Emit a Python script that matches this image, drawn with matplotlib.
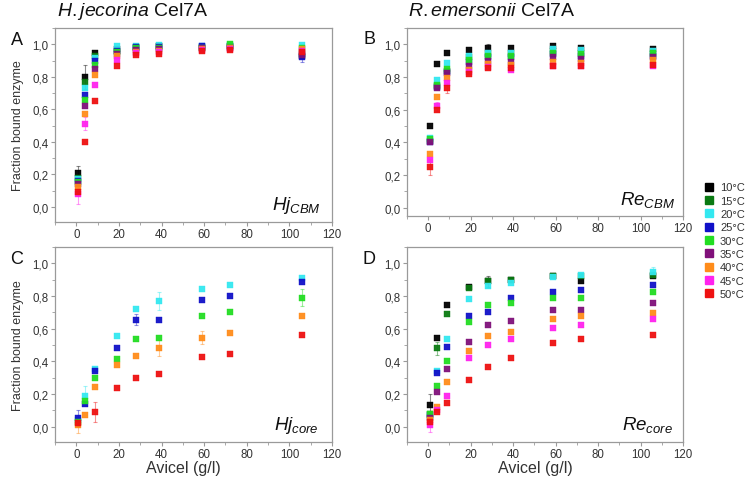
import numpy as np
import matplotlib
matplotlib.use('Agg')
from matplotlib import pyplot as plt
from matplotlib.ticker import MultipleLocator, FuncFormatter
from matplotlib.lines import Line2D

plt.rcParams['font.family'] = ['Liberation Sans', 'DejaVu Sans']
plt.rcParams['mathtext.fontset'] = 'custom'
plt.rcParams['mathtext.rm'] = 'Liberation Sans'
plt.rcParams['mathtext.it'] = 'Liberation Sans:italic'

nan = np.nan
avicel = [1, 4, 9, 19, 28, 39, 59, 72, 106]
temps = ['10°C', '15°C', '20°C', '25°C', '30°C', '35°C', '40°C', '45°C', '50°C']
colors = ['#000000', '#0a7a12', '#33e8f0', '#1010c8', '#22dd22',
          '#80107a', '#ff8c1a', '#ff22ee', '#ee1111']

# panel A: H. jecorina CBM
hj_cbm = [
    [0.21, 0.80, 0.945, 0.97, 0.985, 0.99, 0.985, 0.99, 0.93],   # 10
    [0.18, 0.77, 0.93, 0.96, 0.98, 0.99, 0.98, 0.99, 0.94],      # 15
    [0.17, 0.73, 0.915, 0.99, 0.99, 0.995, 0.99, 0.995, 0.995],  # 20
    [0.16, 0.69, 0.90, 0.96, 0.985, 0.985, 0.99, 0.985, 0.92],   # 25
    [0.15, 0.66, 0.875, 0.95, 0.975, 0.98, 0.98, 1.0, 0.98],     # 30
    [0.14, 0.62, 0.85, 0.94, 0.965, 0.97, 0.975, 0.98, 0.935],   # 35
    [0.12, 0.57, 0.81, 0.93, 0.955, 0.96, 0.97, 0.975, 0.97],    # 40
    [0.08, 0.51, 0.75, 0.905, 0.945, 0.95, 0.965, 0.97, 0.96],   # 45
    [0.09, 0.40, 0.65, 0.867, 0.935, 0.94, 0.96, 0.965, 0.95],   # 50
]

# panel B: R. emersonii CBM
re_cbm = [
    [0.50, 0.88, 0.945, 0.965, 0.975, 0.98, 0.99, 0.98, 0.97],
    [0.41, 0.745, 0.84, 0.92, 0.94, 0.94, 0.96, 0.95, 0.94],
    [0.43, 0.78, 0.885, 0.93, 0.95, 0.95, 0.97, 0.965, 0.96],
    [0.40, 0.74, 0.83, 0.89, 0.92, 0.92, 0.94, 0.93, 0.93],
    [0.42, 0.75, 0.85, 0.905, 0.93, 0.93, 0.95, 0.94, 0.95],
    [0.40, 0.73, 0.825, 0.87, 0.90, 0.895, 0.92, 0.91, 0.92],
    [0.33, 0.68, 0.795, 0.845, 0.88, 0.875, 0.89, 0.885, 0.905],
    [0.295, 0.62, 0.765, 0.83, 0.86, 0.845, 0.865, 0.87, 0.87],
    [0.25, 0.60, 0.735, 0.82, 0.855, 0.855, 0.87, 0.865, 0.875],
]

# panel C: H. jecorina core (only 20, 25, 30, 40, 50 °C)
hj_core = [
    [nan] * 9,
    [nan] * 9,
    [0.04, 0.19, 0.355, 0.555, 0.72, 0.77, 0.845, 0.865, 0.91],
    [0.055, 0.14, 0.34, 0.48, 0.655, 0.65, 0.775, 0.80, 0.885],
    [0.03, 0.155, 0.295, 0.415, 0.535, 0.545, 0.68, 0.705, 0.79],
    [nan] * 9,
    [0.01, 0.07, 0.245, 0.375, 0.435, 0.48, 0.545, 0.575, 0.675],
    [nan] * 9,
    [0.02, nan, 0.09, 0.235, 0.30, 0.325, 0.425, 0.445, 0.56],
]

# panel D: R. emersonii core
re_core = [
    [0.13, 0.54, 0.745, 0.857, 0.89, 0.90, 0.92, 0.894, 0.924],
    [0.08, 0.48, 0.69, 0.85, 0.89, 0.90, 0.925, 0.925, 0.93],
    [0.06, 0.34, 0.535, 0.78, 0.86, 0.88, 0.918, 0.928, 0.945],
    [0.07, 0.33, 0.49, 0.68, 0.705, 0.79, 0.826, 0.834, 0.867],
    [0.08, 0.25, 0.40, 0.64, 0.745, 0.76, 0.785, 0.785, 0.826],
    [0.05, 0.21, 0.35, 0.52, 0.62, 0.645, 0.717, 0.715, 0.76],
    [0.04, 0.12, 0.275, 0.465, 0.555, 0.58, 0.658, 0.676, 0.697],
    [0.01, 0.10, 0.185, 0.42, 0.50, 0.535, 0.607, 0.62, 0.658],
    [0.03, 0.09, 0.145, 0.283, 0.365, 0.42, 0.513, 0.537, 0.564],
]

# the larger error bars visible in the figure: (series index, point index, +/-)
err_a = [(0, 0, 0.04), (0, 1, 0.075), (7, 0, 0.06), (7, 1, 0.04), (3, 8, 0.03)]
err_b = [(8, 0, 0.05), (7, 1, 0.03), (8, 2, 0.03), (0, 4, 0.025)]
err_c = [(3, 0, 0.05), (6, 0, 0.05), (2, 1, 0.06), (8, 2, 0.06), (2, 5, 0.055),
         (6, 5, 0.05), (4, 8, 0.05), (6, 6, 0.04), (3, 4, 0.035)]
err_d = [(0, 0, 0.07), (7, 0, 0.04), (1, 1, 0.04), (2, 8, 0.03), (0, 4, 0.035)]

W, H = 745, 481
fig = plt.figure(figsize=(W / 100, H / 100), dpi=100)


def px_axes(x0, y0, x1, y1):
    return fig.add_axes([x0 / W, 1 - y1 / H, (x1 - x0) / W, (y1 - y0) / H])


comma = FuncFormatter(lambda v, p: ('%.1f' % v).replace('.', ','))
grey = '#9a9a9a'
txt = '#333333'


def panel(ax, data, errs, ylo, letter, tag):
    for si, pi, e in errs:
        ax.errorbar(avicel[pi], data[si][pi], yerr=e, fmt='none',
                    ecolor=colors[si], alpha=0.45, elinewidth=0.8,
                    capsize=1.5, capthick=0.8)
    for vals, c in zip(data, colors):
        ax.plot(avicel, vals, 's', color=c, ms=4.2, mec=c, mew=0.3, alpha=0.95)
    ax.set_xlim(-10, 120)
    ax.set_ylim(ylo, 1.1)
    ax.xaxis.set_major_locator(MultipleLocator(20))
    ax.xaxis.set_minor_locator(MultipleLocator(10))
    ax.yaxis.set_major_locator(MultipleLocator(0.2))
    ax.yaxis.set_minor_locator(MultipleLocator(0.1))
    ax.yaxis.set_major_formatter(comma)
    ax.tick_params(which='both', direction='out', colors=grey, labelcolor=txt,
                   labelsize=8.3)
    ax.tick_params(which='major', length=3, pad=1.5)
    ax.tick_params(which='minor', length=2)
    for s in ax.spines.values():
        s.set_color(grey)
        s.set_linewidth(0.9)
    ax.text(-0.137, 0.943, letter, transform=ax.transAxes, fontsize=13,
            color='#111111', ha='center', va='center')
    ax.text(0.87, 0.09, tag, transform=ax.transAxes, fontsize=13.5,
            color='#111111', ha='center', va='center')


axA = px_axes(55, 29, 332, 223)
axB = px_axes(407, 29, 683, 217)
axC = px_axes(55, 248, 332, 443)
axD = px_axes(407, 248, 683, 443)

panel(axA, hj_cbm, err_a, -0.093, 'A', r'$\mathit{Hj}_{\mathit{CBM}}$')
panel(axB, re_cbm, err_b, -0.05, 'B', r'$\mathit{Re}_{\mathit{CBM}}$')
panel(axC, hj_core, err_c, -0.094, 'C', r'$\mathit{Hj}_{\mathit{core}}$')
panel(axD, re_core, err_d, -0.094, 'D', r'$\mathit{Re}_{\mathit{core}}$')

for ax in (axA, axC):
    ax.set_ylabel('Fraction bound enzyme', fontsize=9, color=txt, labelpad=6)

# x labels placed by pixel so they sit tight under the tick labels
for cx in ((55 + 332) / 2 - 10, (407 + 683) / 2 - 10):
    fig.text(cx / W, 1 - 469 / H, 'Avicel (g/l)', fontsize=11.5, color=txt,
             ha='center', va='center')

fig.text(57 / W, 1 - 11 / H, r'$\mathit{H.jecorina}$ Cel7A', fontsize=14,
         color='#111111', va='center', ha='left')
fig.text(408 / W, 1 - 11 / H, r'$\mathit{R.emersonii}$ Cel7A', fontsize=14,
         color='#111111', va='center', ha='left')

handles = [Line2D([], [], ls='none', marker='s', ms=6, color=c) for c in colors]
fig.legend(handles, temps, loc='upper left', bbox_to_anchor=(700 / W, 1 - 179 / H),
           frameon=False, fontsize=8, labelcolor=txt, handlelength=0.8,
           handletextpad=0.6, labelspacing=0.3, borderaxespad=0)

fig.savefig('out.png', dpi=100)
